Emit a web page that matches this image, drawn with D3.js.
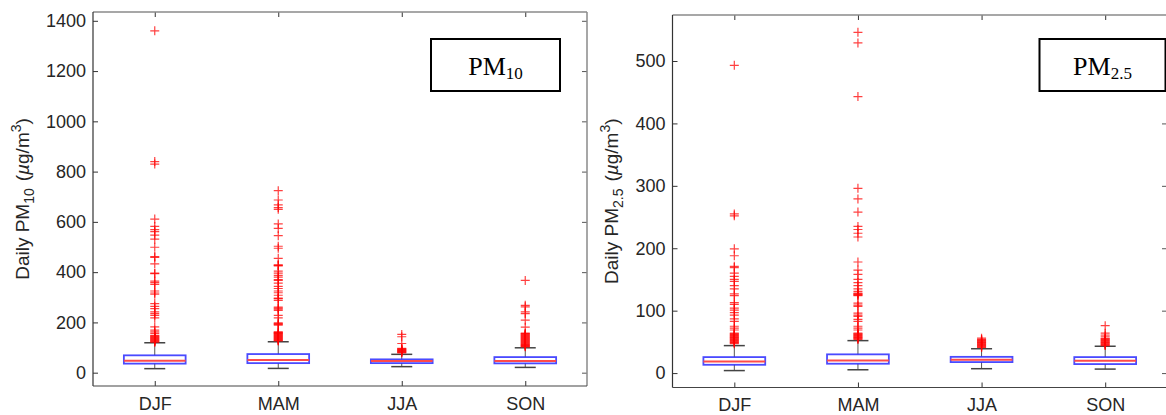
<!DOCTYPE html>
<html><head><meta charset="utf-8">
<script src="https://cdn.jsdelivr.net/npm/d3@7"></script>
<style>
body{margin:0;background:#fff}
svg{display:block}
text{font-family:"Liberation Sans",Arial,Helvetica,sans-serif;fill:#262626}
</style>
</head><body>
<svg id="c" width="1166" height="415"></svg>
<script>
// ---------- data ----------
const categories = ["DJF", "MAM", "JJA", "SON"];
const pm10Yticks = [0, 200, 400, 600, 800, 1000, 1200, 1400];
const pm25Yticks = [0, 100, 200, 300, 400, 500];

const pm10WhiskerLow  = [16, 17, 24, 21];
const pm10Q1          = [36, 38, 38, 37];
const pm10Median      = [47, 50, 46, 46];
const pm10Q3          = [69, 74, 53, 62];
const pm10WhiskerHigh = [119, 123, 73, 99];

const pm10OutDJF = [1360, 840, 830, 611, 582, 569, 561, 547, 531, 499, 462, 459, 433, 396, 394, 364, 358, 351, 325, 317, 312, 275, 264, 255, 242, 235, 228, 218, 182, 169, 162, 156, 149, 147, 145, 143, 141, 139, 137, 135, 133, 131, 129, 127, 125, 123, 121];
const pm10OutMAM = [724, 687, 668, 657, 650, 592, 574, 545, 503, 495, 455, 429, 427, 425, 404, 396, 387, 380, 370, 367, 356, 343, 335, 325, 318, 308, 297, 295, 288, 261, 257, 253, 248, 228, 218, 198, 195, 192, 189, 162, 160, 158, 156, 154, 152, 150, 148, 146, 144, 142, 140, 138, 136, 134, 132, 130, 128, 126];
const pm10OutJJA = [152, 143, 116, 97, 95, 93, 91, 89, 87, 85, 83, 81, 79];
const pm10OutSON = [367, 268, 262, 242, 235, 209, 181, 157, 155, 153, 151, 149, 147, 145, 143, 141, 139, 137, 135, 133, 131, 129, 127, 125, 123, 121, 119, 117, 115, 113, 111, 109, 107, 105, 103];

const pm25WhiskerLow  = [4, 5.3, 7, 6.4];
const pm25Q1          = [13.3, 15, 17.6, 14.4];
const pm25Median      = [18.6, 20, 21.3, 19.7];
const pm25Q3          = [25.6, 30, 26, 25.6];
const pm25WhiskerHigh = [44, 52, 39, 43];

const pm25OutDJF = [493, 255, 252, 199, 188, 171, 169, 160, 155, 150, 147, 140, 135, 127, 124, 113, 110, 104, 101, 97, 93, 87, 83, 75, 72, 69, 64, 63, 62, 61, 60, 59, 58, 57, 56, 55, 54, 53, 52, 51, 50, 49, 48, 47];
const pm25OutMAM = [546, 529, 443, 296, 279, 258, 235, 230, 224, 218, 178, 165, 158, 150, 145, 140, 135, 131, 128, 127, 126, 125, 124, 112, 109, 107, 96, 93, 91, 86, 83, 75, 72, 69, 64, 63, 62, 61, 60, 59, 58, 57, 56, 55, 54];
const pm25OutJJA = [56, 54, 53, 52, 51, 50, 49, 48, 47, 46, 45, 44, 43, 42, 41];
const pm25OutSON = [76, 64, 61, 59, 56, 55, 54, 53, 52, 51, 50, 49, 48, 47, 46, 45, 44];

// ---------- panels ----------
const panels = [
  {
    left: 93, right: 587, top: 12, bottom: 386,
    yDomain: [-53, 1435], yticks: pm10Yticks,
    lo: pm10WhiskerLow, q1: pm10Q1, med: pm10Median, q3: pm10Q3, hi: pm10WhiskerHigh,
    out: [pm10OutDJF, pm10OutMAM, pm10OutJJA, pm10OutSON],
    sub: "10", labelX: 29,
    box: {x: 431, y: 39, w: 129, h: 52}
  },
  {
    left: 672.5, right: 1167, top: 15, bottom: 387.5,
    yDomain: [-23.1, 573.7], yticks: pm25Yticks,
    lo: pm25WhiskerLow, q1: pm25Q1, med: pm25Median, q3: pm25Q3, hi: pm25WhiskerHigh,
    out: [pm25OutDJF, pm25OutMAM, pm25OutJJA, pm25OutSON],
    sub: "2.5", labelX: 618,
    box: {x: 1039.5, y: 39, w: 126, h: 52}
  }
];

const svg = d3.select("#c");

panels.forEach(p => {
  const x = d3.scalePoint().domain(categories).range([p.left, p.right]).padding(0.5);
  const y = d3.scaleLinear().domain(p.yDomain).range([p.bottom, p.top]);
  const step = x.step();
  const bw = step * 0.25, cw = step * 0.085;
  const g = svg.append("g");

  // axes
  const ya = g.append("g").attr("transform", `translate(${p.left},0)`)
    .call(d3.axisLeft(y).tickValues(p.yticks).tickFormat(d3.format("d")).tickSize(-5).tickPadding(7));
  ya.select(".domain").remove();
  ya.selectAll("line").attr("stroke", "#333");
  ya.selectAll("text").style("font-size", "18px").attr("fill", "#262626")
    .style("font-family", '"Liberation Sans",Arial,sans-serif');

  const yr = g.append("g").attr("transform", `translate(${p.right},0)`)
    .call(d3.axisRight(y).tickValues(p.yticks).tickSize(-5).tickFormat(""));
  yr.select(".domain").remove();
  yr.selectAll("line").attr("stroke", "#555");

  const xa = g.append("g").attr("transform", `translate(0,${p.bottom})`)
    .call(d3.axisBottom(x).tickSize(-5).tickPadding(11));
  xa.select(".domain").remove();
  xa.selectAll("line").attr("stroke", "#333");
  xa.selectAll("text").style("font-size", "18px").attr("fill", "#262626")
    .style("font-family", '"Liberation Sans",Arial,sans-serif');

  const xt = g.append("g").attr("transform", `translate(0,${p.top})`)
    .call(d3.axisTop(x).tickSize(-5).tickFormat(""));
  xt.select(".domain").remove();
  xt.selectAll("line").attr("stroke", "#333");

  // frame
  g.append("line").attr("x1", p.left).attr("x2", p.right).attr("y1", p.top).attr("y2", p.top)
    .attr("stroke", "#8a8a8a").attr("stroke-width", 1.5);
  g.append("line").attr("x1", p.right).attr("x2", p.right).attr("y1", p.top).attr("y2", p.bottom)
    .attr("stroke", "#8a8a8a").attr("stroke-width", 1.5);
  g.append("line").attr("x1", p.left).attr("x2", p.left).attr("y1", p.top).attr("y2", p.bottom)
    .attr("stroke", "#333").attr("stroke-width", 1.2);
  g.append("line").attr("x1", p.left).attr("x2", p.right).attr("y1", p.bottom).attr("y2", p.bottom)
    .attr("stroke", "#444").attr("stroke-width", 1.2);

  categories.forEach((c, i) => {
    const cx = x(c);
    // whiskers
    g.append("line").attr("x1", cx).attr("x2", cx).attr("y1", y(p.q3[i])).attr("y2", y(p.hi[i]))
      .attr("stroke", "#555").attr("stroke-width", 1);
    g.append("line").attr("x1", cx).attr("x2", cx).attr("y1", y(p.q1[i])).attr("y2", y(p.lo[i]))
      .attr("stroke", "#555").attr("stroke-width", 1);
    // caps
    [p.hi[i], p.lo[i]].forEach(v => {
      g.append("line").attr("x1", cx - cw).attr("x2", cx + cw).attr("y1", y(v)).attr("y2", y(v))
        .attr("stroke", "#444").attr("stroke-width", 1.5);
    });
    // box
    g.append("rect").attr("x", cx - bw).attr("width", 2 * bw)
      .attr("y", y(p.q3[i])).attr("height", y(p.q1[i]) - y(p.q3[i]))
      .attr("fill", "none").attr("stroke", "#2a2aff").attr("stroke-width", 1.8).attr("stroke-opacity", 0.85);
    // median
    g.append("line").attr("x1", cx - bw).attr("x2", cx + bw).attr("y1", y(p.med[i])).attr("y2", y(p.med[i]))
      .attr("stroke", "#ff4a4a").attr("stroke-width", 2);
    // outliers
    g.selectAll(null).data(p.out[i]).enter().append("path")
      .attr("d", d => `M${cx - 4.5},${y(d)}H${cx + 4.5}M${cx},${y(d) - 4.5}V${y(d) + 4.5}`)
      .attr("stroke", "#ff0000").attr("stroke-width", 1.2).attr("stroke-opacity", 0.75).attr("fill", "none");
  });

  // y label
  const cy = (p.top + p.bottom) / 2;
  const t = g.append("text").attr("transform", `translate(${p.labelX},${cy}) rotate(-90)`)
    .attr("text-anchor", "middle").style("font-size", "19px");
  t.append("tspan").text("Daily PM");
  t.append("tspan").attr("dy", 5).style("font-size", "14px").text(p.sub);
  t.append("tspan").attr("dy", -5).attr("dx", 7).text("(");
  t.append("tspan").style("font-style", "italic").text("\u00b5");
  t.append("tspan").text("g/m");
  t.append("tspan").attr("dy", -8).style("font-size", "14px").text("3");
  t.append("tspan").attr("dy", 8).text(")");

  // label box
  g.append("rect").attr("x", p.box.x).attr("y", p.box.y).attr("width", p.box.w).attr("height", p.box.h)
    .attr("fill", "#fff").attr("stroke", "#000").attr("stroke-width", 2);
  const bt = g.append("text").attr("x", p.box.x + p.box.w / 2).attr("y", p.box.y + 36)
    .attr("text-anchor", "middle")
    .style("font-family", '"Liberation Serif","Times New Roman",serif').style("fill", "#000").style("font-size", "26px");
  bt.append("tspan").text("PM");
  bt.append("tspan").attr("dy", 4).style("font-size", "17px").text(p.sub);
});
</script>
</body></html>
